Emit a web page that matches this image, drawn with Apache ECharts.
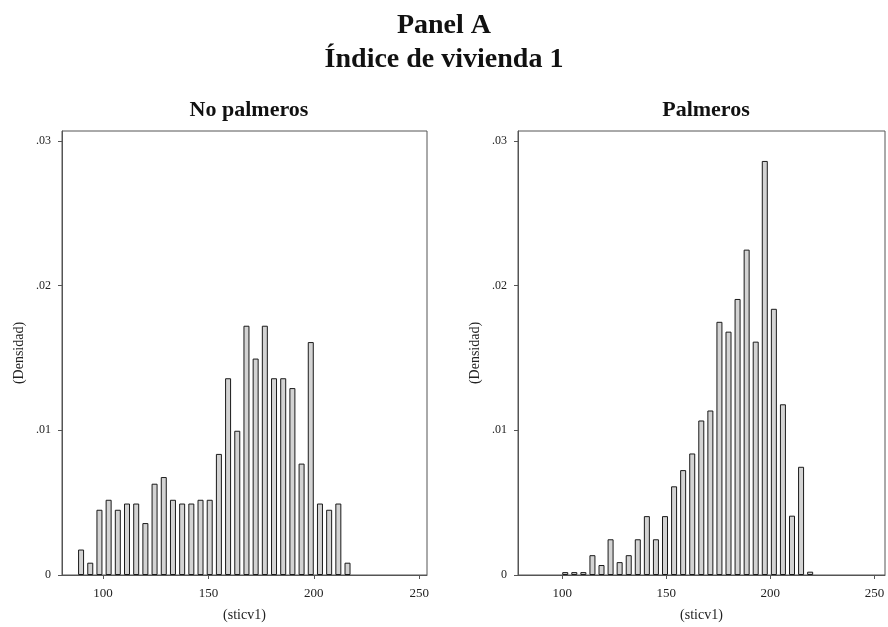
<!DOCTYPE html>
<html>
<head>
<meta charset="utf-8">
<script src="https://cdn.jsdelivr.net/npm/echarts@6/dist/echarts.min.js"></script>
<style>
html, body { margin: 0; padding: 0; background: #fff; }
#chart { width: 888px; height: 627px; }
</style>
</head>
<body>
<div id="chart"></div>
<script>
// histogram densities, one bar per bin
var binWidth = 4.36;
var leftBinStart = 89.55;   // centre of first bin, No palmeros
var rightBinStart = 101.4;  // centre of first bin, Palmeros
var leftDensity = [0.00176, 0.00085, 0.00451, 0.0052, 0.00451, 0.00494, 0.00494, 0.00359, 0.00631, 0.00677,
    0.0052, 0.00494, 0.00494, 0.0052, 0.0052, 0.00837, 0.0136, 0.00997, 0.01723, 0.01496,
    0.01723, 0.0136, 0.0136, 0.01292, 0.0077, 0.0161, 0.00494, 0.00451, 0.00494, 0.00085];
var rightDensity = [0.0002, 0.0002, 0.0002, 0.00137, 0.00069, 0.00247, 0.00089, 0.00137, 0.00247, 0.00407,
    0.00247, 0.00407, 0.00613, 0.00725, 0.0084, 0.01068, 0.01137, 0.0175, 0.01682, 0.01908,
    0.02249, 0.01613, 0.02862, 0.0184, 0.0118, 0.0041, 0.00748, 0.00023];
var xTicks = [100, 150, 200, 250];
var yTicks = [0, 0.01, 0.02, 0.03];
var panelNames = ['No palmeros', 'Palmeros'];

function toPairs(start, vals) {
    return vals.map(function (v, i) { return [start + i * binWidth, v]; });
}

var font = 'Liberation Serif';
var lineCol = '#555';

function yLabel(v) {
    return v === 0 ? '0' : v.toFixed(2).replace(/^0/, '');
}

function xAxisFor(idx, min, max) {
    return {
        type: 'value', gridIndex: idx, min: min, max: max,
        name: '(sticv1)', nameLocation: 'middle', nameGap: 33,
        nameTextStyle: { fontFamily: font, fontSize: 14, color: '#222' },
        splitLine: { show: false },
        axisLine: { lineStyle: { color: lineCol, width: 1 } },
        axisTick: { length: 4, lineStyle: { color: lineCol }, customValues: xTicks },
        axisLabel: { fontFamily: font, fontSize: 13, color: '#222', margin: 12, customValues: xTicks }
    };
}

function yAxisFor(idx) {
    return {
        type: 'value', gridIndex: idx, min: 0, max: 0.03069,
        name: '(Densidad)', nameLocation: 'middle', nameGap: 36, nameRotate: 90,
        nameTextStyle: { fontFamily: font, fontSize: 14, color: '#222' },
        splitLine: { show: false },
        axisLine: { show: true, lineStyle: { color: lineCol, width: 1 } },
        axisTick: { show: true, length: 4, lineStyle: { color: lineCol }, customValues: yTicks },
        axisLabel: { fontFamily: font, fontSize: 12, color: '#222', margin: 11, customValues: yTicks, formatter: yLabel }
    };
}

function barSeries(idx, data) {
    return {
        type: 'bar', xAxisIndex: idx, yAxisIndex: idx,
        data: data, barWidth: 6, barGap: '-100%',
        itemStyle: { color: '#d3d3d3', borderColor: '#1a1a1a', borderWidth: 1 },
        silent: true
    };
}

var option = {
    backgroundColor: '#fff',
    animation: false,
    title: [
        { text: 'Panel A', left: 'center', top: 7,
          textStyle: { fontFamily: font, fontSize: 28, fontWeight: 'bold', color: '#111' } },
        { text: 'Índice de vivienda 1', left: 'center', top: 41,
          textStyle: { fontFamily: font, fontSize: 28, fontWeight: 'bold', color: '#111' } },
        { text: panelNames[0], left: 244, top: 94, textAlign: 'center',
          textStyle: { fontFamily: font, fontSize: 22, fontWeight: 'bold', color: '#111' } },
        { text: panelNames[1], left: 701, top: 94, textAlign: 'center',
          textStyle: { fontFamily: font, fontSize: 22, fontWeight: 'bold', color: '#111' } }
    ],
    grid: [
        { left: 62, right: 461, top: 131, bottom: 49, show: true, borderColor: lineCol, borderWidth: 1 },
        { left: 518, right: 3, top: 131, bottom: 49, show: true, borderColor: lineCol, borderWidth: 1 }
    ],
    xAxis: [xAxisFor(0, 80.5, 253.7), xAxisFor(1, 78.7, 255.1)],
    yAxis: [yAxisFor(0), yAxisFor(1)],
    series: [barSeries(0, toPairs(leftBinStart, leftDensity)), barSeries(1, toPairs(rightBinStart, rightDensity))]
};

var mychart = echarts.init(document.getElementById('chart'));
mychart.setOption(option);
</script>
</body>
</html>
